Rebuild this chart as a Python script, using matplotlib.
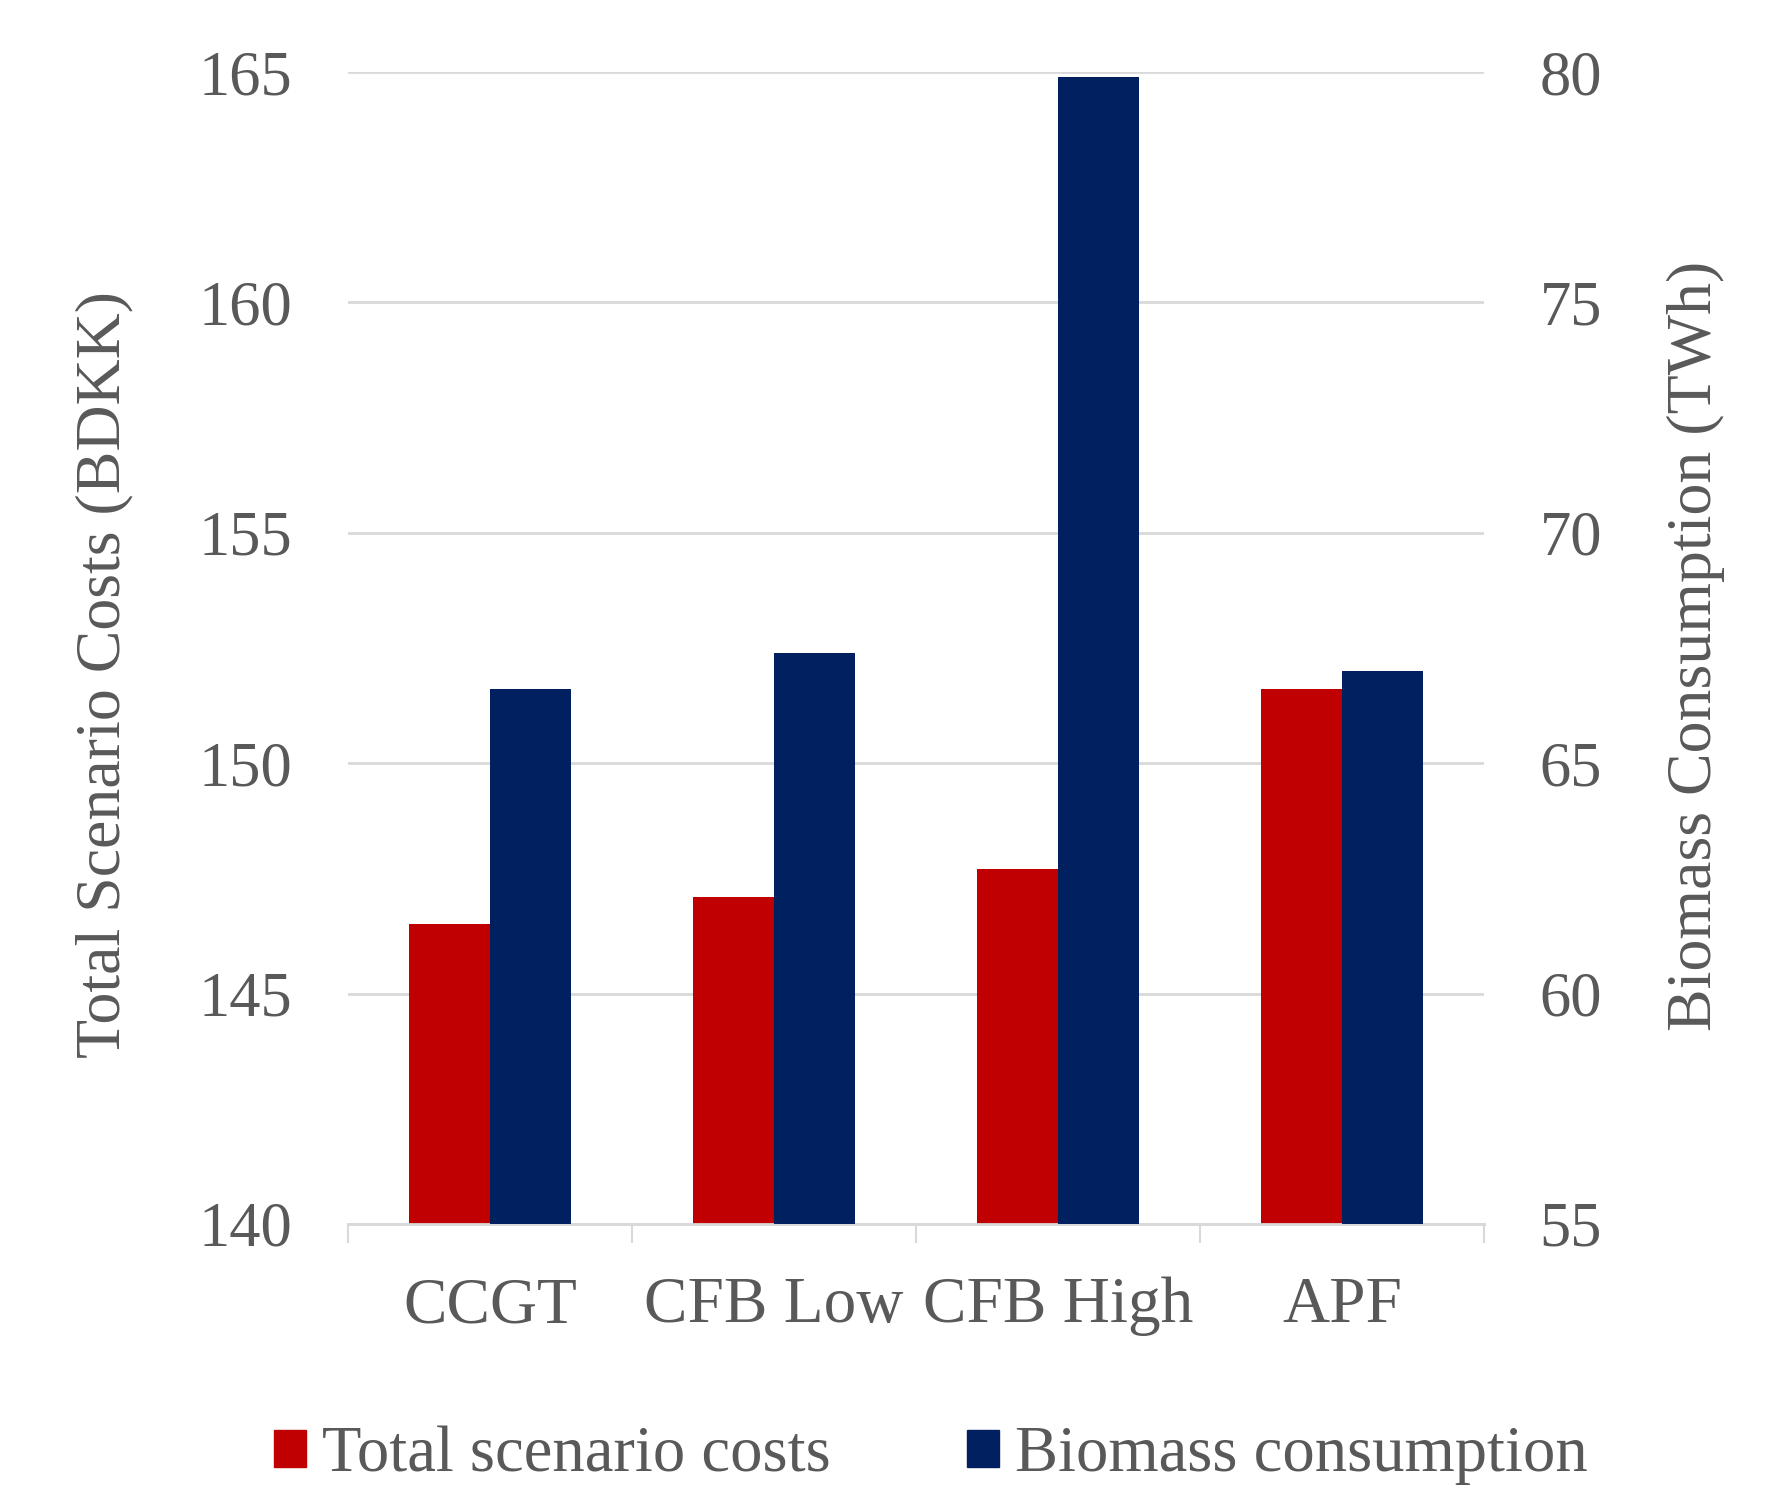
import matplotlib
matplotlib.use("Agg")
import matplotlib.pyplot as plt
import numpy as np
from matplotlib.patches import Patch

categories = ["CCGT", "CFB Low", "CFB High", "APF"]
total_costs = [146.5, 147.1, 147.7, 151.6]
biomass = [66.6, 67.4, 79.9, 67.0]
left_ticks = [140, 145, 150, 155, 160, 165]
right_ticks = [55, 60, 65, 70, 75, 80]

plt.rcParams['font.family'] = ['Liberation Serif', 'DejaVu Serif']
grey = '#595959'
red = '#C00000'
blue = '#002060'
fs = 45

fig = plt.figure(figsize=(17.87, 14.85), dpi=100)
ax = fig.add_axes([0.1947, 0.1758, 0.8304 - 0.1947, 0.9515 - 0.1758])
ax2 = ax.twinx()

x = np.arange(len(categories))
w = 0.285
ax.bar(x - w / 2, total_costs, width=w, bottom=0, color=red, zorder=3)
ax2.bar(x + w / 2, biomass, width=w, color=blue, zorder=3)

ax.set_ylim(140, 165)
ax2.set_ylim(55, 80)
ax.set_xlim(-0.5, len(categories) - 0.5)
ax.set_yticks(left_ticks)
ax2.set_yticks(right_ticks)
ax.yaxis.grid(True, color='#d9d9d9', linewidth=2, zorder=0)
ax.set_axisbelow(True)

for a in (ax, ax2):
    for s in ('left', 'right', 'top'):
        a.spines[s].set_visible(False)
    a.spines['bottom'].set_color('#d9d9d9')
    a.spines['bottom'].set_linewidth(2)
    a.tick_params(axis='y', length=0, labelsize=fs, labelcolor=grey)

ax.tick_params(axis='y', pad=40)
ax2.tick_params(axis='y', pad=40)

ax.set_xticks(x)
ax.set_xticklabels(categories)
ax.set_xticks(np.arange(-0.5, len(categories), 1.0), minor=True)
ax.tick_params(axis='x', which='major', length=0, labelsize=47, labelcolor=grey, pad=38)
ax.tick_params(axis='x', which='minor', length=14, width=1.5, color='#d9d9d9', direction='out')

ax.set_ylabel("Total Scenario Costs (BDKK)", fontsize=46, color=grey)
ax.yaxis.set_label_coords(-0.189, 0.477)
ax2.set_ylabel("Biomass Consumption (TWh)", fontsize=46, color=grey, rotation=90)
ax2.yaxis.set_label_coords(1.161, 0.502)

handles = [Patch(color=red, label="Total scenario costs"),
           Patch(color=blue, label="Biomass consumption")]
fig.legend(handles=handles, loc='center', bbox_to_anchor=(0.521, 0.02), ncol=2,
           frameon=False, fontsize=46.5, labelcolor=grey, handlelength=0.5,
           handleheight=0.5, handletextpad=0.25, columnspacing=2.1,
           borderpad=0, borderaxespad=0)

fig.savefig("out.png", dpi=100)
